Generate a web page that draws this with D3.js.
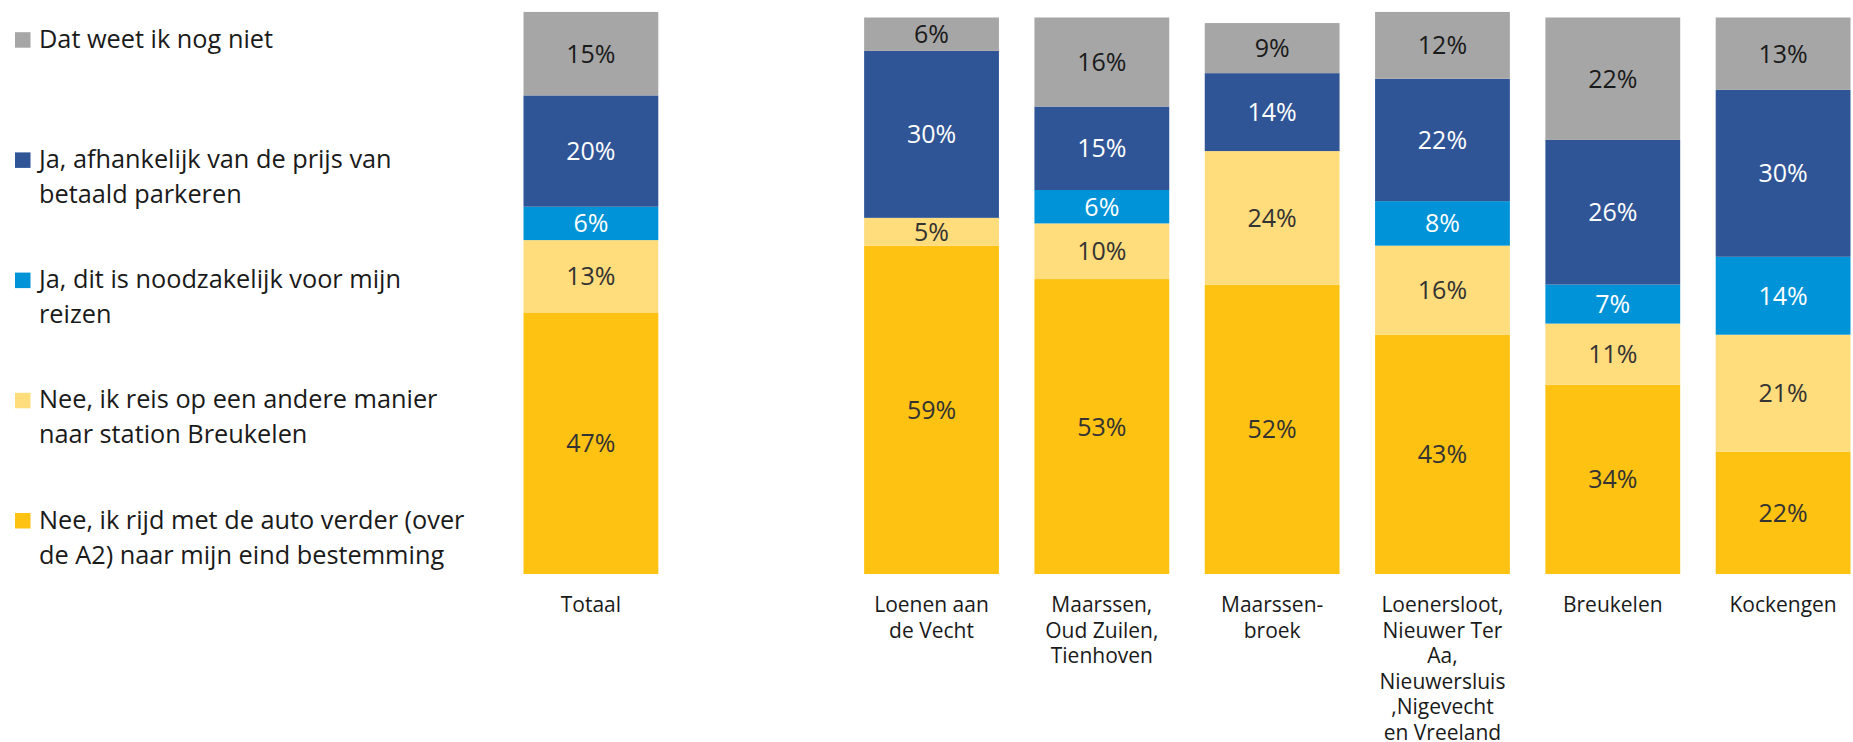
<!DOCTYPE html>
<html>
<head>
<meta charset="utf-8">
<script src="https://cdn.jsdelivr.net/npm/d3@7"></script>
<style>
  body { margin: 0; background: #fff; }
  svg { display: block; font-family: "Open Sans", sans-serif; }
</style>
</head>
<body>
<div id="chart"></div>
<script>
// categories (the empty slot is the gap after Totaal)
var slots = ["Totaal", "", "Loenen aan de Vecht", "Maarssen, Oud Zuilen, Tienhoven", "Maarssenbroek", "Loenersloot e.o.", "Breukelen", "Kockengen"];
var categories = ["Totaal", "Loenen aan de Vecht", "Maarssen, Oud Zuilen, Tienhoven", "Maarssenbroek", "Loenersloot e.o.", "Breukelen", "Kockengen"];
var categoryLines = [
  ["Totaal"],
  ["Loenen aan", "de Vecht"],
  ["Maarssen,", "Oud Zuilen,", "Tienhoven"],
  ["Maarssen-", "broek"],
  ["Loenersloot,", "Nieuwer Ter", "Aa,", "Nieuwersluis", ",Nigevecht", "en Vreeland"],
  ["Breukelen"],
  ["Kockengen"]
];

// series, bottom to top
var autoVerder   = [47, 59, 53, 52, 43, 34, 22];
var andereManier = [13, 5, 10, 24, 16, 11, 21];
var noodzakelijk = [6, 0, 6, 0, 8, 7, 14];
var prijsAfh     = [20, 30, 15, 14, 22, 26, 30];
var weetNiet     = [15, 6, 16, 9, 12, 22, 13];

var seriesKeys = ["auto", "andere", "nood", "prijs", "weet"];
var seriesValues = [autoVerder, andereManier, noodzakelijk, prijsAfh, weetNiet];
var seriesColors = ["#FEC212", "#FFDC7C", "#0093D7", "#2F5597", "#A6A6A6"];
var labelColors = ["#333333", "#333333", "#ffffff", "#ffffff", "#1a1a1a"];

// legend, top to bottom
var legendKeys = ["weet", "prijs", "nood", "andere", "auto"];
var legendLines = [
  ["Dat weet ik nog niet"],
  ["Ja, afhankelijk van de prijs van", "betaald parkeren"],
  ["Ja, dit is noodzakelijk voor mijn", "reizen"],
  ["Nee, ik reis op een andere manier", "naar station Breukelen"],
  ["Nee, ik rijd met de auto verder (over", "de A2) naar mijn eind bestemming"]
];

var width = 1853, height = 742;

var svg = d3.select("#chart")
    .append("svg")
    .attr("width", width)
    .attr("height", height);

// build table for d3.stack
var table = categories.map(function (c, i) {
    var row = { cat: c };
    seriesKeys.forEach(function (k, j) { row[k] = seriesValues[j][i]; });
    return row;
});

var stacked = d3.stack().keys(seriesKeys)(table);

var x = d3.scaleBand()
    .domain(slots)
    .range([523.5, 1850.5])
    .paddingInner(0.2085)
    .paddingOuter(0);

var y = d3.scaleLinear()
    .domain([0, 100])
    .range([574, 17.5]);

var color = d3.scaleOrdinal().domain(seriesKeys).range(seriesColors);
var textColor = d3.scaleOrdinal().domain(seriesKeys).range(labelColors);

var layers = svg.append("g")
    .selectAll("g")
    .data(stacked)
    .enter()
    .append("g")
    .attr("fill", function (d) { return color(d.key) });

layers.selectAll("rect")
    .data(function (d) { return d; })
    .enter()
    .append("rect")
    .attr("x", function (d) { return x(d.data.cat) })
    .attr("width", x.bandwidth())
    .attr("y", function (d) { return y(d[1]) })
    .attr("height", function (d) { return y(d[0]) - y(d[1]) });

// value labels
layers.each(function (layer) {
    d3.select(this).selectAll("text")
        .data(layer.filter(function (d) { return d[1] - d[0] > 0 }))
        .enter()
        .append("text")
        .attr("x", function (d) { return x(d.data.cat) + x.bandwidth() / 2 })
        .attr("y", function (d) { return (y(d[0]) + y(d[1])) / 2 })
        .attr("dy", "0.36em")
        .attr("text-anchor", "middle")
        .attr("font-size", 25)
        .attr("fill", textColor(layer.key))
        .text(function (d) { return (d[1] - d[0]) + "%" });
});

// category labels
var catG = svg.append("g");
categories.forEach(function (c, i) {
    var t = catG.append("text")
        .attr("text-anchor", "middle")
        .attr("font-size", 21)
        .attr("fill", "#1a1a1a");
    categoryLines[i].forEach(function (line, j) {
        t.append("tspan")
            .attr("x", x(c) + x.bandwidth() / 2)
            .attr("y", 612 + j * 25.6)
            .text(line);
    });
});

// legend
var legend = svg.append("g");
legendKeys.forEach(function (k, i) {
    var base = 47.7 + i * 120.2;
    legend.append("rect")
        .attr("x", 15)
        .attr("y", base - 15.5)
        .attr("width", 15.5)
        .attr("height", 15.5)
        .attr("fill", color(k));
    var t = legend.append("text")
        .attr("font-size", 25.3)
        .attr("fill", "#1a1a1a");
    legendLines[i].forEach(function (line, j) {
        t.append("tspan")
            .attr("x", 39)
            .attr("y", base + j * 35)
            .text(line);
    });
});
</script>
</body>
</html>
